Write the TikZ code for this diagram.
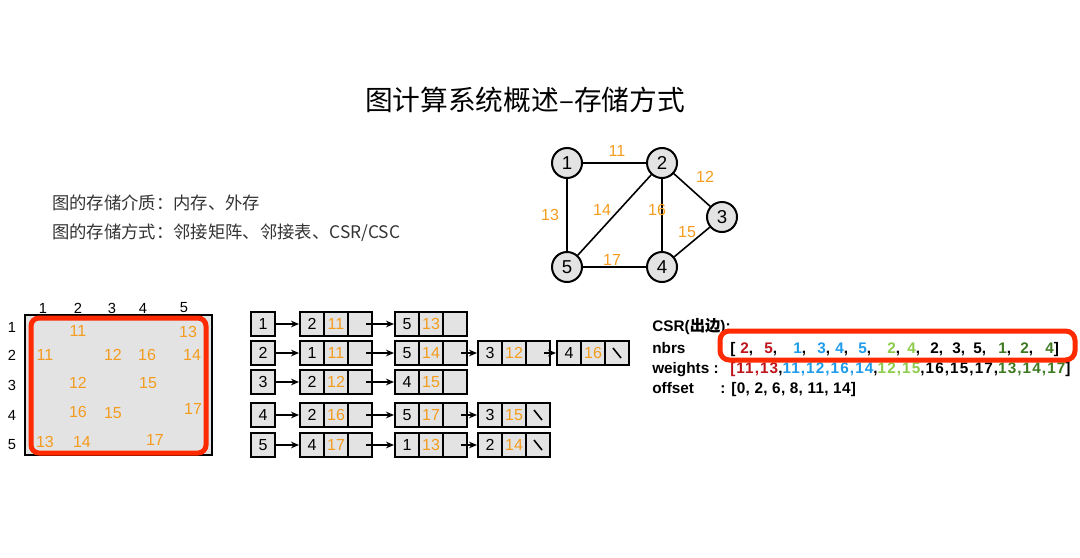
\documentclass[tikz,border=0pt]{standalone}
\usepackage{fontspec}
\setmainfont{Liberation Sans}
\newfontfamily\cjk{Noto Sans CJK SC}
\usetikzlibrary{arrows.meta,calc}
\definecolor{cellgray}{HTML}{E3E3E3}
\definecolor{hw}{HTML}{F39C1E}
\definecolor{redbox}{HTML}{FF2A00}
\definecolor{cred}{HTML}{C0141C}
\definecolor{cblue}{HTML}{1E9BEA}
\definecolor{clgreen}{HTML}{8CCB4C}
\definecolor{cdgreen}{HTML}{3E7A22}
\definecolor{txtgray}{HTML}{333333}
\newcommand\trip[6]{%
  \node[cell] (#1a) at (#2+12,#3) {#4};
  \node[cell,text=hw] (#1b) at (#2+36,#3) {#5};
  \node[cell] (#1c) at (#2+60,#3) {};
  \ifnum#6=1 \draw[line width=1.2pt] ($(#1c.center)+(-4,-5)$) -- ($(#1c.center)+(4,5)$);\fi
}
\newcommand\ptr[2]{\draw[link] ($(#1c.center)+(6,0)$) -- (#2a.west);}
\begin{document}
\begin{tikzpicture}[x=0.75pt,y=-0.75pt,
  cell/.style={draw=black, fill=cellgray, line width=1.5pt, minimum width=18pt, minimum height=18pt, inner sep=0pt, font=\fontsize{12}{12}\selectfont},
  headbox/.style={cell, minimum width=18.5pt},
  gnode/.style={circle, draw, fill=cellgray, line width=1.5pt, minimum size=22.5pt, inner sep=0pt, font=\fontsize{14}{14}\selectfont},
  hwnum/.style={text=hw, font=\fontsize{12}{12}\selectfont},
  mlab/.style={font=\fontsize{11}{11}\selectfont},
  link/.style={-{Stealth[length=6pt,width=5pt]}, line width=1.3pt},
  gedge/.style={line width=1.2pt},
  csr/.style={anchor=base west, inner sep=0pt, font=\bfseries\fontsize{11.5}{12}\selectfont},
  body/.style={anchor=west, inner sep=0pt, text=txtgray, font=\cjk\fontsize{13}{13}\selectfont},
]
\useasboundingbox (0,0) rectangle (1080,557);

% title and text
\node[font=\cjk\fontsize{20.8}{21}\selectfont] (title) at (525,100) {图计算系统概述–存储方式};
\node[body] (t1) at (52,203) {图的存储介质：内存、外存};
\node[body] (t2) at (52,233) {图的存储方式：邻接矩阵、邻接表、CSR/CSC};

% graph
\node[gnode] (g1) at (567,163) {1};
\node[gnode] (g2) at (662,163) {2};
\node[gnode] (g3) at (722,217) {3};
\node[gnode] (g4) at (662,267) {4};
\node[gnode] (g5) at (567,267) {5};
\draw[gedge] (g1) -- (g2);
\draw[gedge] (g1) -- (g5);
\draw[gedge] (g2) -- (g5);
\draw[gedge] (g2) -- (g4);
\draw[gedge] (g2) -- (g3);
\draw[gedge] (g3) -- (g4);
\draw[gedge] (g5) -- (g4);
\node[hwnum] (w11) at (617,151) {11};
\node[hwnum] (w12) at (705,177) {12};
\node[hwnum] (w13) at (550,215) {13};
\node[hwnum] (w14) at (602,210) {14};
\node[hwnum] (w16) at (657,210) {16};
\node[hwnum] (w15) at (687,232) {15};
\node[hwnum] (w17) at (612,260) {17};

% adjacency matrix
\draw[line width=1.2pt, fill=cellgray] (25,315) rectangle (212,455);
\draw[redbox, line width=3.75pt, rounded corners=6pt] (31,318) rectangle (206,453);
\foreach \c/\x in {1/43,2/78,3/112,4/143,5/184}
  \node[mlab] (c\c) at (\x,308) {\c};
\foreach \r/\y in {1/327,2/355,3/385,4/415,5/445}
  \node[mlab] (r\r) at (12,\y) {\r};
\node[hwnum] (m12) at (78,331) {11};
\node[hwnum] (m15) at (188,332) {13};
\node[hwnum] (m21) at (45,355) {11};
\node[hwnum] (m23) at (113,355) {12};
\node[hwnum] (m24) at (147,355) {16};
\node[hwnum] (m25) at (192,355) {14};
\node[hwnum] (m32) at (78,383) {12};
\node[hwnum] (m34) at (148,383) {15};
\node[hwnum] (m42) at (78,412) {16};
\node[hwnum] (m43) at (113,413) {15};
\node[hwnum] (m45) at (193,409) {17};
\node[hwnum] (m51) at (45,442) {13};
\node[hwnum] (m52) at (82,442) {14};
\node[hwnum] (m54) at (155,440) {17};

% adjacency list
\foreach \i/\y in {1/324,2/353,3/382,4/415,5/445}
  \node[headbox] (h\i) at (263,\y) {\i};
\trip{ra}{300}{324}{2}{11}{0}
\trip{rb}{395}{324}{5}{13}{0}
\trip{sa}{300}{353}{1}{11}{0}
\trip{sb}{395}{353}{5}{14}{0}
\trip{sc}{478}{353}{3}{12}{0}
\trip{sd}{557}{353}{4}{16}{1}
\trip{ta}{300}{382}{2}{12}{0}
\trip{tb}{395}{382}{4}{15}{0}
\trip{ua}{300}{415}{2}{16}{0}
\trip{ub}{395}{415}{5}{17}{0}
\trip{uc}{478}{415}{3}{15}{1}
\trip{va}{300}{445}{4}{17}{0}
\trip{vb}{395}{445}{1}{13}{0}
\trip{vc}{478}{445}{2}{14}{1}
\draw[link] (h1.east) -- (raa.west);
\draw[link] (h2.east) -- (saa.west);
\draw[link] (h3.east) -- (taa.west);
\draw[link] (h4.east) -- (uaa.west);
\draw[link] (h5.east) -- (vaa.west);
\ptr{ra}{rb}
\ptr{sa}{sb}
\ptr{sb}{sc}
\ptr{sc}{sd}
\ptr{ta}{tb}
\ptr{ua}{ub}
\ptr{ub}{uc}
\ptr{va}{vb}
\ptr{vb}{vc}

% CSR
\node[csr] (csrt) at (652,331) {CSR({\cjk\bfseries 出边}):};
\node[csr] (nl) at (652,353) {nbrs};
\node[csr] (nc) at (717,353) {:};
\node[csr] (n0) at (730,353) {[};
\foreach \x/\v/\col in {740/2/cred,764/5/cred,793/1/cblue,817/3/cblue,835/4/cblue,858/5/cblue,887/2/clgreen,907/4/clgreen,930/2/black,952/3/black,973/5/black,998/1/cdgreen,1020/2/cdgreen}
  \node[csr] at (\x,353) {\textcolor{\col}{\v},};
\node[csr] (nend) at (1045,353) {\textcolor{cdgreen}{4}]};
\node[csr] (wl) at (652,373) {weights :};
\node[csr] (wv) at (730,373) {\addfontfeature{LetterSpace=7}\textcolor{cred}{[11,13},\textcolor{cblue}{11,12,16,14},\textcolor{clgreen}{12,15},16,15,17,\textcolor{cdgreen}{13,14,17}]};
\node[csr] (ol) at (652,393) {offset};
\node[csr] (ov) at (720,393) {\addfontfeature{LetterSpace=2}: [0, 2, 6, 8, 11, 14]};
\draw[redbox, line width=3.75pt, rounded corners=7pt] (720,331) rectangle (1075,360);
\end{tikzpicture}
\end{document}
